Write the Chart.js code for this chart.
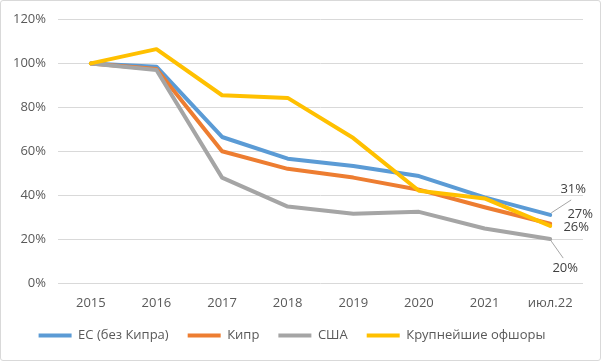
<!DOCTYPE html>
<html>
<head>
<meta charset="utf-8">
<script src="https://cdn.jsdelivr.net/npm/chart.js@4"></script>
<style>
  html, body { margin: 0; padding: 0; background: #fff; }
  #wrap { position: absolute; left: 0; top: 0; width: 599px; height: 359px; border: 1px solid #d9d9d9; border-radius: 3px; }
</style>
</head>
<body>
<div id="wrap"><canvas id="chart" width="599" height="359"></canvas></div>
<script>
var years = ['2015', '2016', '2017', '2018', '2019', '2020', '2021', 'июл.22'];
var euNoCyprus = [100, 98.5, 66.5, 56.6, 53.3, 48.7, 39, 31];
var cyprus = [100, 97.5, 60, 52, 48, 42.5, 34.5, 27];
var usa = [100, 97, 48, 34.8, 31.5, 32.4, 24.8, 20];
var offshores = [100, 106.5, 85.5, 84.3, 66, 42, 38.5, 26];
var seriesNames = ['ЕС (без Кипра)', 'Кипр', 'США', 'Крупнейшие офшоры'];
var seriesColors = ['#5b9bd5', '#ed7d31', '#a5a5a5', '#ffc000'];
var endLabels = ['31%', '27%', '20%', '26%'];

var fontFam = '"Open Sans", "Liberation Sans", sans-serif';

// label placement for the last point of each series: [dx, dy, leader]
var labelPos = [[23, -26, true], [30, -9, false], [15, 29, true], [26, 1, false]];

var endLabelPlugin = {
    id: 'endLabels',
    afterDatasetsDraw: function(chart) {
        var ctx = chart.ctx;
        ctx.save();
        ctx.font = '13px ' + fontFam;
        ctx.fillStyle = '#404040';
        ctx.textAlign = 'center';
        ctx.textBaseline = 'middle';
        chart.data.datasets.forEach(function(ds, i) {
            var meta = chart.getDatasetMeta(i);
            var pt = meta.data[meta.data.length - 1];
            var p = labelPos[i];
            var lx = pt.x + p[0], ly = pt.y + p[1];
            if (p[2]) {
                ctx.strokeStyle = '#a6a6a6';
                ctx.lineWidth = 1;
                ctx.beginPath();
                ctx.moveTo(pt.x + 1, pt.y + (p[1] < 0 ? -2 : 2));
                ctx.lineTo(lx - 2, ly + (p[1] < 0 ? 11 : -10));
                ctx.stroke();
            }
            ctx.fillText(endLabels[i], lx, ly);
        });
        ctx.restore();
    }
};

var allData = [euNoCyprus, cyprus, usa, offshores];
var order = [4, 3, 2, 1];

var chartobj = new Chart(document.getElementById('chart').getContext('2d'), {
    type: 'line',
    data: {
        labels: years,
        datasets: allData.map(function(d, i) {
            return {
                label: seriesNames[i],
                data: d,
                borderColor: seriesColors[i],
                backgroundColor: seriesColors[i],
                borderWidth: 4,
                pointRadius: 0,
                tension: 0,
                borderJoinStyle: 'round',
                borderCapStyle: 'round',
                order: order[i]
            };
        })
    },
    options: {
        responsive: false,
        animation: false,
        layout: { padding: { left: 0, right: 17, top: 16, bottom: 8 } },
        plugins: {
            tooltip: { enabled: false },
            legend: {
                position: 'bottom',
                labels: {
                    usePointStyle: true,
                    pointStyle: 'line',
                    pointStyleWidth: 33,
                    padding: 19,
                    color: '#595959',
                    font: { family: fontFam, size: 13 },
                    sort: function(a, b) { return a.datasetIndex - b.datasetIndex; }
                }
            }
        },
        scales: {
            x: {
                offset: true,
                grid: { display: false },
                border: { display: false },
                ticks: { color: '#595959', font: { family: fontFam, size: 13 }, padding: 4, maxRotation: 0 },
                afterFit: function(axis) { axis.height = 27; }
            },
            y: {
                min: 0,
                max: 120,
                grid: { color: '#d9d9d9', lineWidth: 1, drawTicks: false },
                border: { display: false },
                ticks: {
                    stepSize: 20,
                    color: '#595959',
                    font: { family: fontFam, size: 13, lineHeight: 1 },
                    padding: 12,
                    callback: function(v) { return v + '%'; }
                },
                afterFit: function(axis) { axis.width = 57; }
            }
        }
    },
    plugins: [endLabelPlugin]
});
</script>
</body>
</html>
